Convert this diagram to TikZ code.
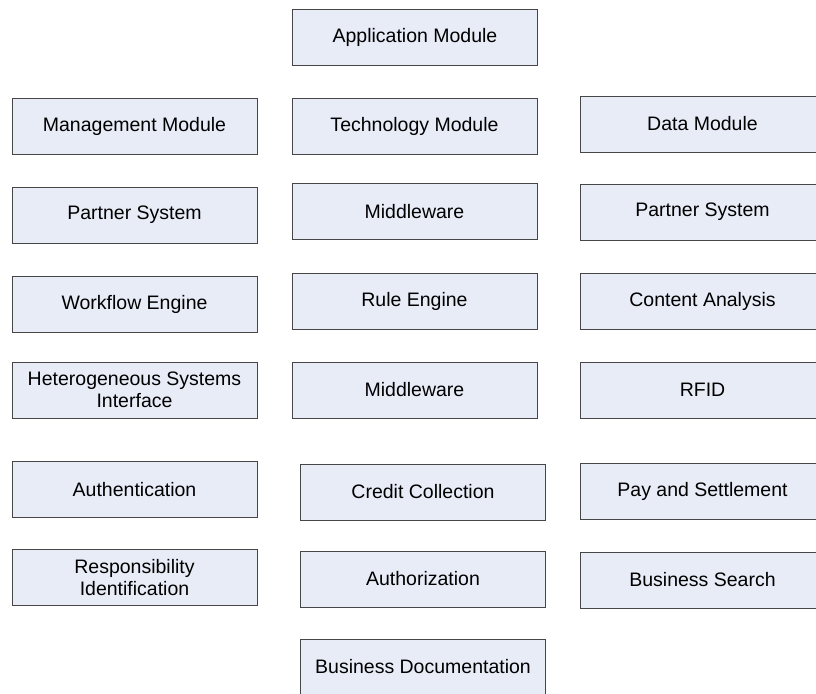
\documentclass[tikz,border=0pt]{standalone}
\usepackage{fontspec}
\setmainfont{Liberation Sans}
\definecolor{boxfill}{RGB}{232,236,247}
\definecolor{boxline}{RGB}{70,70,70}
\begin{document}
\begin{tikzpicture}[x=1pt,y=-1pt,
  modbox/.style={draw=boxline, fill=boxfill, line width=0.9pt, minimum width=245pt,
    minimum height=56pt, inner sep=0pt, align=center,
    font=\fontsize{19.5}{22.5}\selectfont}]
\useasboundingbox (0,0) rectangle (816,693);
\node[modbox] (app) at (415,37) {Application Module};
\node[modbox] (mgmt) at (134.5,126.5) {Management Module};
\node[modbox] (tech) at (414.5,126.5) {Technology Module};
\node[modbox] (data) at (702.5,124) {Data Module};
\node[modbox] (ps1) at (134.5,215) {Partner System};
\node[modbox] (mw1) at (414.5,211.5) {Middleware};
\node[modbox] (ps2) at (702.5,212) {Partner System};
\node[modbox] (wf) at (134.5,304.5) {Workflow Engine};
\node[modbox] (rule) at (414.5,301.5) {Rule Engine};
\node[modbox] (ca) at (702.5,301) {Content Analysis};
\node[modbox] (het) at (134.5,390) {Heterogeneous Systems\\Interface};
\node[modbox] (mw2) at (414.5,390) {Middleware};
\node[modbox] (rfid) at (702.5,390) {RFID};
\node[modbox] (auth) at (134.5,489.5) {Authentication};
\node[modbox] (cc) at (423,492) {Credit Collection};
\node[modbox] (pay) at (702.5,491) {Pay and Settlement};
\node[modbox] (resp) at (134.5,577.5) {Responsibility\\Identification};
\node[modbox] (authz) at (423,579) {Authorization};
\node[modbox] (bs) at (702.5,580) {Business Search};
\node[modbox] (bd) at (423,667) {Business Documentation};
\end{tikzpicture}
\end{document}
